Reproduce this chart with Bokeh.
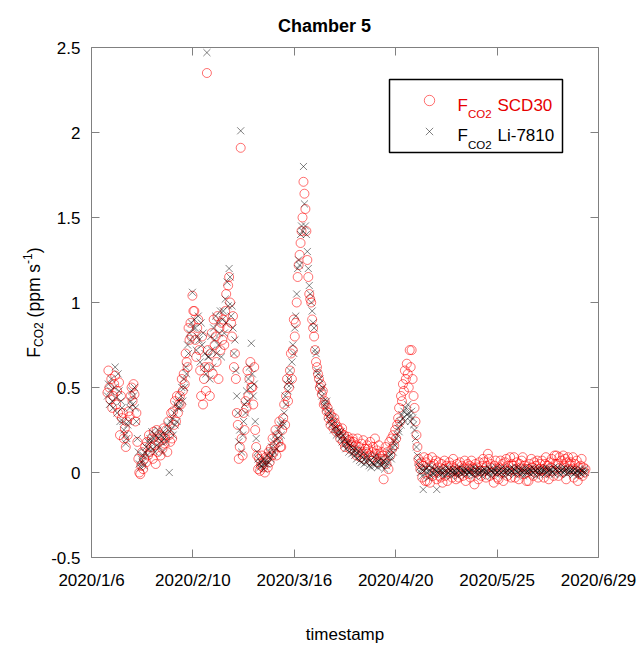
import numpy as np
import pandas as pd
from bokeh.plotting import figure
from bokeh.models import (ColumnDataSource, Range1d, FixedTicker, LinearAxis, BoxAnnotation,
                          DatetimeAxis, CustomJSTickFormatter, Label, Legend, LegendItem)
from bokeh.embed import file_html
from bokeh.resources import INLINE

# ---------------- data (three readings per day, 8 h apart) ----------------
first_sample = "2020-01-11 12:00"
sample_step = "8h"

li7810 = [
    0.45, 0.52, 0.40, 0.48, 0.55, 0.42, 0.38, 0.50, 0.62, 0.44, 0.35, 0.58, 0.48, 0.30, 0.42,
    0.38, 0.30, 0.25, 0.22, 0.17, 0.20, 0.28, 0.30, 0.38, 0.42, 0.48, 0.40, 0.45, 0.50, 0.38,
    0.30, 0.20, 0.12, 0.05, 0.03, 0.08, 0.06, 0.10, 0.04, 0.12, 0.15, 0.10, 0.18, 0.14, 0.20,
    0.18, 0.24, 0.14, 0.20, 0.12, 0.22, 0.16, 0.25, 0.20, 0.15, 0.22, 0.18, 0.12, 0.24, 0.20,
    0.22, 0.18, 0.28, 0.25, 0.00, 0.30, 0.25, 0.32, 0.22, 0.35, 0.28, 0.40, 0.30, 0.38, 0.42,
    0.38, 0.45, 0.50, 0.42, 0.55, 0.50, 0.62, 0.58, 0.75, 0.70, 0.82, 0.78, 0.88, 1.06, 0.85,
    0.90, 0.85, 0.72, 0.80, 0.92, 0.78, 0.65, 0.88, 0.75, 0.82, 0.62, 0.70, 0.58, 2.47, 0.68,
    0.68, 0.55, 0.80, 0.72, 0.62, 0.85, 0.78, 0.92, 0.70, 0.88, 0.75, 0.82, 0.95, 0.68, 0.90,
    0.95, 0.82, 1.02, 0.88, 1.12, 0.98, 1.20, 1.15, 0.92, 0.98, 0.85, 0.70, 0.78, 0.60, 0.45,
    0.35, 0.18, 0.25, 2.01, 0.12, 0.22, 0.30, 0.40, 0.35, 0.48, 0.42, 0.55, 0.62, 0.50, 0.76,
    0.58, 0.45, 0.52, 0.30, 0.20, 0.12, 0.08, 0.05, 0.03, 0.06, 0.04, 0.08, 0.02, 0.05, 0.07,
    0.05, 0.10, 0.06, 0.12, 0.08, 0.15, 0.10, 0.18, 0.12, 0.22, 0.14, 0.20, 0.25, 0.18, 0.28,
    0.22, 0.30, 0.28, 0.35, 0.45, 0.40, 0.52, 0.48, 0.55, 0.60, 0.52, 0.65, 0.75, 0.70, 0.85,
    0.92, 1.05, 1.20, 1.25, 1.22, 1.40, 1.45, 1.42, 1.80, 1.58, 1.45, 1.40, 1.30, 1.20, 1.10,
    1.05, 1.00, 0.95, 0.88, 0.85, 0.72, 0.70, 0.60, 0.58, 0.52, 0.55, 0.48, 0.45, 0.50, 0.42,
    0.40, 0.38, 0.42, 0.33, 0.36, 0.30, 0.35, 0.28, 0.32, 0.25, 0.30, 0.27, 0.22, 0.26, 0.24,
    0.22, 0.20, 0.24, 0.18, 0.22, 0.16, 0.20, 0.14, 0.18, 0.17, 0.12, 0.16, 0.15, 0.11, 0.14,
    0.12, 0.10, 0.14, 0.08, 0.11, 0.13, 0.07, 0.10, 0.06, 0.09, 0.12, 0.05, 0.08, 0.06, 0.10,
    0.08, 0.04, 0.07, 0.03, 0.06, 0.05, 0.09, 0.04, 0.10, 0.06, 0.03, 0.07, 0.05, 0.08, 0.04,
    0.05, 0.07, 0.02, 0.06, 0.04, 0.09, 0.06, 0.12, 0.10, 0.08, 0.15, 0.12, 0.18, 0.16, 0.20,
    0.22, 0.26, 0.24, 0.30, 0.28, 0.34, 0.32, 0.36, 0.30, 0.38, 0.34, 0.40, 0.35, 0.33, 0.30,
    0.36, 0.32, 0.28, 0.25, 0.20, 0.15, 0.10, 0.06, 0.03, 0.00, 0.02, -0.02, -0.10, 0.01, 0.03,
    0.02, 0.00, -0.03, 0.04, 0.01, -0.02, 0.03, 0.00, -0.01, 0.02, 0.01, -0.10, 0.00, 0.02, -0.01,
    0.01, -0.01, 0.02, 0.00, -0.02, 0.01, 0.03, -0.01, 0.00, 0.02, 0.01, -0.02, 0.00, 0.02, 0.01,
    -0.01, 0.00, 0.02, -0.02, 0.01, 0.03, 0.00, -0.01, 0.02, 0.01, 0.00, 0.02, -0.01, 0.01, 0.00,
    0.00, 0.02, -0.01, 0.01, 0.03, -0.02, 0.00, 0.02, 0.01, -0.01, 0.02, 0.00, 0.01, -0.02, 0.01,
    0.02, 0.00, 0.01, -0.01, 0.03, 0.00, 0.02, -0.02, 0.01, 0.00, 0.02, 0.01, -0.01, 0.03, 0.00,
    0.01, -0.01, 0.02, 0.00, 0.03, 0.01, -0.02, 0.00, 0.02, 0.01, -0.01, 0.02, 0.00, 0.01, 0.03,
    0.00, 0.02, -0.01, 0.01, 0.03, 0.00, 0.02, -0.01, 0.01, 0.02, 0.00, -0.02, 0.01, 0.03, 0.00,
    0.01, 0.00, 0.02, -0.01, 0.01, 0.03, 0.00, 0.02, 0.01, -0.02, 0.00, 0.02, 0.01, -0.01, 0.02,
    0.00, 0.02, 0.01, -0.01, 0.03, 0.00, 0.02, 0.01, -0.01, 0.02, 0.01, 0.00, 0.03, -0.01, 0.02,
    0.01, 0.03, 0.00, 0.02, -0.01, 0.01, 0.02, 0.00, 0.03, 0.01, 0.02, -0.01, 0.00, 0.02, 0.01,
    0.00, 0.02, 0.01, -0.01, 0.02, 0.00, 0.01, -0.02, 0.01, 0.00, 0.02, -0.01, 0.01, 0.00, 0.02,
    0.00,
]

scd30 = [
    0.47, 0.60, 0.50, 0.43, 0.55, 0.38, 0.45, 0.52, 0.57, 0.40, 0.48, 0.35, 0.53, 0.22, 0.45,
    0.32, 0.35, 0.20, 0.26, 0.15, 0.30, 0.22, 0.36, 0.33, 0.45, 0.50, 0.42, 0.52, 0.46, 0.30,
    0.35, 0.18, 0.08, 0.00, -0.01, 0.04, 0.12, 0.02, 0.08, 0.15, 0.06, 0.18, 0.10, 0.22, 0.12,
    0.15, 0.20, 0.08, 0.24, 0.16, 0.05, 0.25, 0.12, 0.18, 0.22, 0.10, 0.20, 0.14, 0.26, 0.17,
    0.20, 0.25, 0.12, 0.30, 0.22, 0.18, 0.35, 0.20, 0.36, 0.28, 0.42, 0.30, 0.45, 0.35, 0.40,
    0.45, 0.40, 0.55, 0.48, 0.58, 0.52, 0.70, 0.65, 0.62, 0.85, 0.78, 0.88, 0.80, 1.04, 0.95,
    0.95, 0.78, 0.68, 0.85, 0.90, 0.72, 0.60, 0.45, 0.80, 0.40, 0.55, 0.62, 0.48, 2.35, 0.72,
    0.62, 0.45, 0.70, 0.82, 0.58, 0.90, 0.75, 0.80, 0.65, 0.92, 0.55, 0.85, 0.72, 0.88, 0.78,
    0.90, 0.75, 0.95, 1.05, 0.85, 1.10, 1.15, 1.00, 0.88, 0.80, 0.92, 0.62, 0.70, 0.55, 0.35,
    0.28, 0.08, 0.15, 1.91, 0.20, 0.10, 0.35, 0.25, 0.42, 0.38, 0.60, 0.45, 0.55, 0.65, 0.50,
    0.50, 0.40, 0.62, 0.25, 0.15, 0.10, 0.02, 0.08, 0.01, 0.04, 0.10, 0.03, 0.06, 0.00, 0.09,
    0.08, 0.03, 0.12, 0.06, 0.14, 0.10, 0.20, 0.12, 0.16, 0.25, 0.10, 0.22, 0.18, 0.30, 0.15,
    0.15, 0.25, 0.32, 0.40, 0.28, 0.45, 0.55, 0.42, 0.50, 0.60, 0.70, 0.55, 0.72, 0.90, 0.80,
    0.88, 1.00, 1.15, 1.22, 1.28, 1.35, 1.42, 1.50, 1.71, 1.64, 1.55, 1.42, 1.25, 1.15, 1.05,
    1.02, 1.00, 0.90, 0.85, 0.80, 0.72, 0.65, 0.62, 0.58, 0.55, 0.50, 0.52, 0.46, 0.48, 0.40,
    0.42, 0.40, 0.36, 0.38, 0.32, 0.35, 0.28, 0.33, 0.30, 0.26, 0.32, 0.29, 0.24, 0.27, 0.25,
    0.25, 0.20, 0.23, 0.26, 0.18, 0.22, 0.15, 0.20, 0.17, 0.21, 0.19, 0.14, 0.18, 0.16, 0.20,
    0.18, 0.13, 0.16, 0.10, 0.20, 0.12, 0.15, 0.09, 0.17, 0.11, 0.19, 0.08, 0.14, 0.12, 0.16,
    0.14, 0.10, 0.18, 0.07, 0.12, 0.15, 0.09, 0.20, 0.11, 0.13, 0.06, 0.16, 0.10, 0.08, 0.12,
    0.10, -0.04, 0.08, 0.15, 0.05, 0.12, 0.02, 0.18, 0.10, 0.20, 0.14, 0.22, 0.16, 0.25, 0.20,
    0.28, 0.32, 0.38, 0.30, 0.45, 0.42, 0.52, 0.48, 0.60, 0.55, 0.64, 0.58, 0.50, 0.72, 0.62,
    0.72, 0.55, 0.45, 0.38, 0.30, 0.22, 0.15, 0.08, 0.05, 0.02, 0.06, -0.03, 0.04, 0.09, -0.05,
    0.06, -0.05, 0.08, 0.01, -0.06, 0.04, 0.09, -0.02, 0.05, 0.00, 0.07, -0.04, 0.03, 0.06, -0.02,
    -0.03, 0.05, -0.06, 0.02, 0.07, -0.02, 0.04, -0.05, 0.03, 0.06, 0.00, 0.04, -0.03, 0.08, 0.01,
    0.02, -0.04, 0.05, 0.00, -0.03, 0.06, 0.01, 0.04, -0.02, 0.03, 0.07, -0.05, 0.02, 0.05, -0.01,
    0.04, -0.03, 0.07, 0.03, 0.02, -0.07, 0.05, 0.00, 0.03, -0.04, 0.06, 0.01, -0.02, 0.04, 0.08,
    0.06, 0.01, -0.03, 0.04, 0.11, 0.08, -0.02, 0.05, 0.00, 0.03, -0.06, 0.04, 0.07, 0.01, -0.03,
    -0.04, 0.03, 0.07, 0.00, 0.05, -0.05, 0.02, 0.06, 0.08, -0.02, 0.04, 0.01, 0.09, -0.03, 0.05,
    0.04, 0.09, -0.03, 0.02, 0.06, 0.00, -0.04, 0.05, 0.03, 0.07, 0.09, -0.01, 0.04, 0.02, -0.05,
    0.02, -0.05, 0.05, 0.01, 0.08, 0.03, -0.02, 0.06, 0.00, 0.04, 0.07, -0.03, 0.02, 0.05, 0.01,
    0.07, 0.02, -0.03, 0.05, 0.09, 0.00, 0.04, -0.04, 0.06, 0.03, 0.08, 0.01, -0.02, 0.10, 0.05,
    0.10, 0.05, -0.02, 0.09, 0.03, 0.07, 0.00, 0.10, 0.04, 0.08, -0.04, 0.06, 0.09, 0.02, 0.05,
    0.06, 0.02, 0.09, -0.03, 0.05, 0.01, 0.07, -0.05, 0.03, -0.01, 0.04, 0.08, -0.02, 0.03, 0.00,
    0.02,
]

x_tick_dates = ["2020-01-06", "2020-02-10", "2020-03-16",
                "2020-04-20", "2020-05-25", "2020-06-29"]
y_ticks = [-0.5, 0.0, 0.5, 1.0, 1.5, 2.0, 2.5]
y_tick_labels = ["-0.5", "0", "0.5", "1", "1.5", "2", "2.5"]

title_text = "Chamber 5"
x_label_text = "timestamp"
series_names = ["SCD30", "Li-7810"]

# ---------------- layout (pixels of the axes box inside the 640x645 canvas) ----------------
W, H = 640, 645
BOX_L, BOX_R, BOX_T, BOX_B = 91, 598, 47, 557
FONT = "Liberation Sans"
AX = "#808080"

times = pd.date_range(first_sample, periods=len(li7810), freq=sample_step)
src = ColumnDataSource(dict(t=times, li=li7810, scd=scd30))

x_tick_ms = [pd.Timestamp(d).value / 1e6 for d in x_tick_dates]
x0, x1 = x_tick_ms[0], x_tick_ms[-1]
y0, y1 = y_ticks[0], y_ticks[-1]
ms_per_px = (x1 - x0) / (BOX_R - BOX_L)
u_per_px = (y1 - y0) / (BOX_B - BOX_T)

p = figure(width=W, height=H, x_axis_type="datetime", title=None,
           output_backend="svg", toolbar_location=None,
           x_range=Range1d(x0 - BOX_L * ms_per_px, x1 + (W - BOX_R) * ms_per_px),
           y_range=Range1d(y0 - (H - BOX_B) * u_per_px, y1 + BOX_T * u_per_px),
           min_border=0, min_border_left=0, min_border_right=0,
           min_border_top=0, min_border_bottom=0)
p.background_fill_color = "white"
p.border_fill_color = "white"
p.outline_line_color = None
p.grid.visible = False

date_fmt = CustomJSTickFormatter(code="""
const d = new Date(tick);
return d.getUTCFullYear() + "/" + (d.getUTCMonth() + 1) + "/" + d.getUTCDate();
""")
blank_fmt = CustomJSTickFormatter(code="return '';")

bottom_axis = p.below[0]
left_axis = p.left[0]
bottom_axis.ticker = FixedTicker(ticks=x_tick_ms)
bottom_axis.formatter = date_fmt
bottom_axis.fixed_location = y0
bottom_axis.bounds = (x0, x1)
left_axis.ticker = FixedTicker(ticks=y_ticks)
left_axis.major_label_overrides = dict(zip(y_ticks, y_tick_labels))
left_axis.fixed_location = x0
left_axis.bounds = (y0, y1)

top_axis = DatetimeAxis(ticker=FixedTicker(ticks=x_tick_ms), formatter=blank_fmt,
                        fixed_location=y1, bounds=(x0, x1))
right_axis = LinearAxis(ticker=FixedTicker(ticks=y_ticks), formatter=blank_fmt,
                        fixed_location=x1, bounds=(y0, y1))
p.add_layout(top_axis, "above")
p.add_layout(right_axis, "right")

for ax in [bottom_axis, left_axis, top_axis, right_axis]:
    ax.axis_line_color = AX
    ax.axis_line_width = 1
    ax.major_tick_line_color = AX
    ax.major_tick_in = 8
    ax.major_tick_out = 0
    ax.minor_tick_line_color = None
    ax.major_label_text_font = FONT
    ax.major_label_text_font_size = "17px"
    ax.major_label_text_color = "black"
    ax.major_label_text_font_style = "normal"
bottom_axis.major_label_standoff = 13
left_axis.major_label_standoff = 11
top_axis.major_label_standoff = 0
right_axis.major_label_standoff = 0

r_red = p.scatter("t", "scd", source=src, marker="circle", size=9,
                  fill_color=None, line_color="red", line_alpha=0.7, line_width=0.8)
r_blk = p.scatter("t", "li", source=src, marker="x", size=10,
                  line_color="black", line_alpha=0.62, line_width=0.8)

# legend frame, drawn under everything else
p.add_layout(BoxAnnotation(left=389, right=562, top=H - 79, bottom=H - 152,
                           left_units="screen", right_units="screen",
                           top_units="screen", bottom_units="screen",
                           fill_alpha=0, line_color="black", line_width=1.5,
                           line_alpha=1.0, level="underlay"))

# transparent legend: only supplies the marker symbols
legend = Legend(items=[LegendItem(label=" ", renderers=[r_red]),
                       LegendItem(label=" ", renderers=[r_blk])],
                location=(389, H - 152), padding=8, margin=0,
                glyph_width=64, glyph_height=26, label_height=26,
                label_width=88, label_standoff=5, spacing=5,
                border_line_alpha=0, background_fill_alpha=0,
                label_text_font_size="4px")
p.add_layout(legend)


def lab(text, px, py, size, color="black", angle=0.0, align="left", style="normal"):
    """Text placed at canvas pixel (px, py) measured from the top-left corner."""
    p.add_layout(Label(x=px, y=H - py, x_units="screen", y_units="screen", text=text,
                       text_font=FONT, text_font_size=size, text_color=color,
                       angle=angle, text_align=align, text_baseline="alphabetic",
                       text_font_style=style, level="overlay"))


# legend texts (F with subscript CO2)
red = "#e60000"
lab("F", 457, 105, "17px", red)
lab("CO2", 467.4, 113, "11.5px", red)
lab(series_names[0], 497, 105, "17px", red)
lab("F", 457, 135.3, "17px")
lab("CO2", 467.4, 144, "11.5px")
lab(series_names[1], 497, 135.3, "17px")

# y axis label, rotated, pieces stacked from the bottom up
ang = np.pi / 2
lab("F", 33.5, 357.2, "17.5px", angle=ang)
lab("CO2", 38.3, 346.5, "12px", angle=ang)
lab("(ppm s", 33.5, 316.9, "17.5px", angle=ang)
lab("-1", 26.5, 263.4, "12px", angle=ang)
lab(")", 33.5, 252.7, "17.5px", angle=ang)

# x axis label and title
lab(x_label_text, (BOX_L + BOX_R) / 2, 634, "17px", align="center")
lab(title_text, 324, 25, "18px", align="center", style="bold")

open("out.html", "w").write(file_html(p, INLINE))
